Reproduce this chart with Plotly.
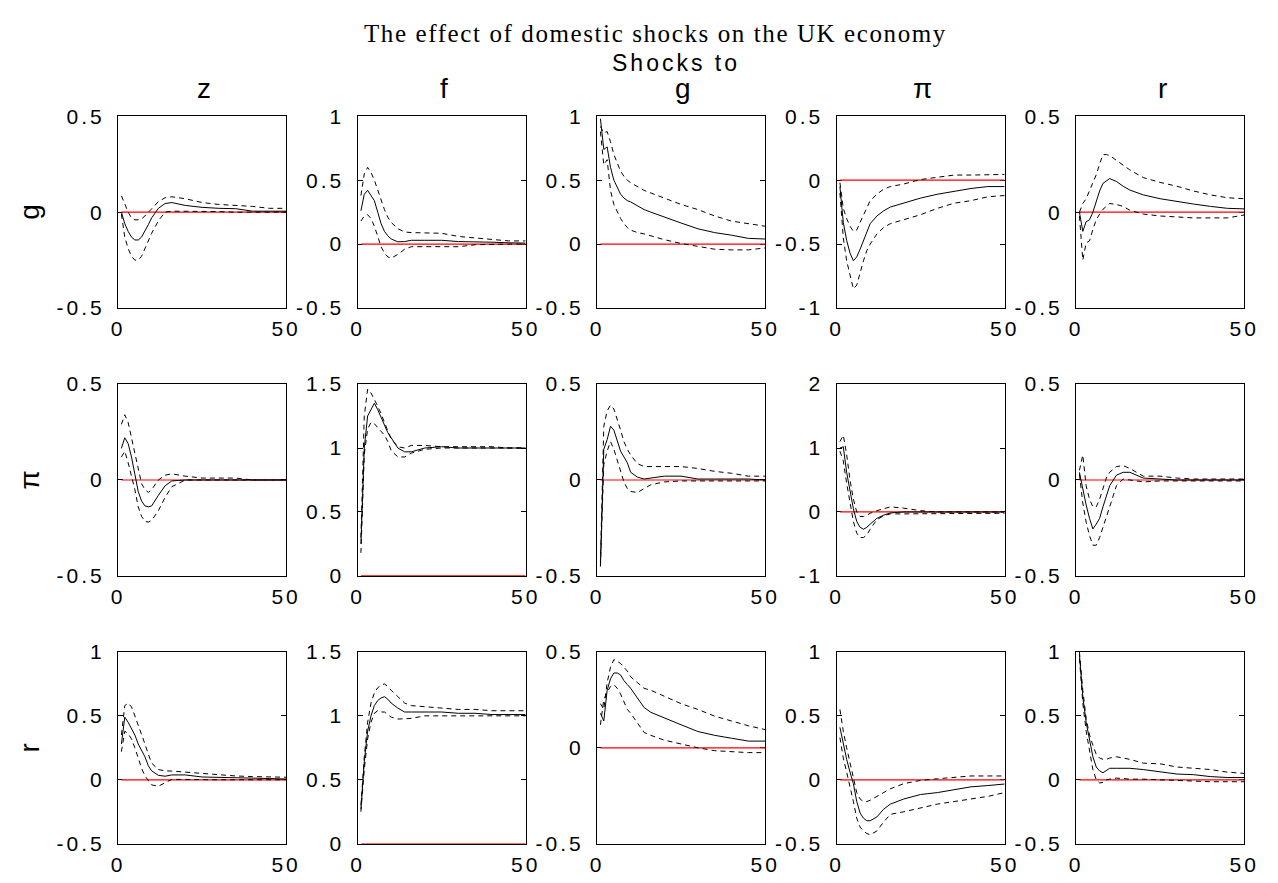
import plotly.graph_objects as go

# ---------------- data ----------------
H = [1, 2, 3, 4, 5, 6, 7, 8, 9, 10, 12, 14, 16, 20, 25, 30, 35, 40, 45, 50]
ZERO_X = [1, 50]
ZERO_Y = [0, 0]

shock_labels = ["z", "f", "g", "π", "r"]
response_labels = ["g", "π", "r"]
x_ticks = [0, 50]
x_ticktext = ["0", "50"]

# response g
g_z_med = [0.0, -0.06, -0.10, -0.13, -0.145, -0.145, -0.13, -0.10, -0.065, -0.03, 0.02, 0.045, 0.05, 0.035, 0.025, 0.02, 0.018, 0.005, 0.005, 0.005]
g_z_lo = [-0.01, -0.13, -0.19, -0.23, -0.25, -0.25, -0.23, -0.19, -0.15, -0.11, -0.045, 0.0, 0.005, 0.005, 0.005, 0.003, 0.0, 0.0, 0.0, 0.0]
g_z_hi = [0.085, 0.04, 0.0, -0.03, -0.04, -0.04, -0.035, -0.02, 0.0, 0.02, 0.055, 0.075, 0.08, 0.07, 0.05, 0.04, 0.035, 0.03, 0.02, 0.02]

g_f_med = [0.26, 0.39, 0.42, 0.38, 0.34, 0.25, 0.16, 0.10, 0.065, 0.04, 0.018, 0.02, 0.03, 0.03, 0.03, 0.02, 0.02, 0.015, 0.01, 0.008]
g_f_lo = [0.18, 0.22, 0.23, 0.20, 0.14, 0.06, -0.02, -0.07, -0.10, -0.11, -0.08, -0.04, -0.02, -0.02, -0.02, -0.02, -0.005, 0.0, 0.0, 0.0]
g_f_hi = [0.38, 0.55, 0.60, 0.56, 0.50, 0.42, 0.34, 0.27, 0.21, 0.17, 0.12, 0.095, 0.09, 0.09, 0.085, 0.06, 0.05, 0.035, 0.025, 0.025]

g_g_med = [0.98, 0.74, 0.76, 0.60, 0.50, 0.44, 0.39, 0.36, 0.34, 0.33, 0.30, 0.27, 0.25, 0.21, 0.165, 0.12, 0.09, 0.07, 0.045, 0.04]
g_g_lo = [0.88, 0.62, 0.66, 0.42, 0.31, 0.25, 0.20, 0.16, 0.13, 0.11, 0.09, 0.08, 0.065, 0.035, 0.005, -0.015, -0.04, -0.045, -0.045, -0.03]
g_g_hi = [0.92, 0.87, 0.88, 0.80, 0.70, 0.64, 0.57, 0.53, 0.50, 0.48, 0.45, 0.42, 0.40, 0.36, 0.31, 0.27, 0.22, 0.18, 0.16, 0.14]

g_pi_med = [-0.05, -0.33, -0.47, -0.57, -0.63, -0.60, -0.54, -0.47, -0.40, -0.34, -0.28, -0.24, -0.21, -0.18, -0.14, -0.11, -0.085, -0.065, -0.05, -0.05]
g_pi_lo = [-0.10, -0.45, -0.63, -0.73, -0.85, -0.82, -0.72, -0.63, -0.55, -0.50, -0.42, -0.37, -0.34, -0.31, -0.27, -0.22, -0.18, -0.16, -0.13, -0.12]
g_pi_hi = [-0.02, -0.22, -0.30, -0.36, -0.40, -0.39, -0.33, -0.27, -0.21, -0.16, -0.11, -0.07, -0.05, -0.03, 0.005, 0.025, 0.04, 0.04, 0.045, 0.045]

g_r_med = [0.0, -0.10, -0.05, -0.04, 0.0, 0.06, 0.11, 0.15, 0.165, 0.175, 0.16, 0.135, 0.115, 0.09, 0.07, 0.055, 0.042, 0.03, 0.02, 0.017]
g_r_lo = [-0.02, -0.25, -0.16, -0.15, -0.09, -0.04, -0.01, 0.015, 0.03, 0.045, 0.04, 0.03, 0.01, -0.01, -0.02, -0.025, -0.03, -0.03, -0.03, -0.015]
g_r_hi = [0.0, 0.045, 0.07, 0.11, 0.15, 0.195, 0.25, 0.30, 0.30, 0.295, 0.27, 0.245, 0.22, 0.18, 0.155, 0.135, 0.11, 0.09, 0.075, 0.07]

# response pi
pi_z_med = [0.165, 0.22, 0.19, 0.12, 0.03, -0.06, -0.11, -0.135, -0.14, -0.135, -0.08, -0.03, -0.005, 0.0, 0.0, 0.0, 0.0, 0.0, 0.0, 0.0]
pi_z_lo = [0.12, 0.15, 0.09, 0.02, -0.05, -0.14, -0.19, -0.215, -0.22, -0.21, -0.16, -0.09, -0.035, 0.0, 0.0, 0.0, 0.0, 0.0, 0.0, 0.0]
pi_z_hi = [0.29, 0.34, 0.30, 0.22, 0.13, 0.05, -0.02, -0.05, -0.065, -0.05, 0.0, 0.025, 0.032, 0.02, 0.01, 0.01, 0.01, 0.0, 0.0, 0.0]

pi_f_med = [0.25, 1.0, 1.25, 1.30, 1.35, 1.30, 1.24, 1.18, 1.12, 1.08, 1.0, 0.97, 0.97, 1.0, 1.01, 1.0, 1.0, 1.0, 1.0, 1.0]
pi_f_lo = [0.18, 0.95, 1.15, 1.20, 1.19, 1.16, 1.13, 1.10, 1.05, 0.98, 0.93, 0.93, 0.96, 0.99, 1.0, 1.0, 1.0, 1.0, 1.0, 1.0]
pi_f_hi = [0.30, 1.25, 1.46, 1.43, 1.38, 1.33, 1.27, 1.20, 1.14, 1.07, 1.01, 1.0, 1.02, 1.02, 1.01, 1.01, 1.01, 1.01, 1.0, 1.0]

pi_g_med = [-0.45, 0.16, 0.21, 0.28, 0.26, 0.20, 0.15, 0.12, 0.09, 0.04, 0.015, 0.005, 0.01, 0.02, 0.02, 0.005, 0.005, 0.005, 0.005, 0.0]
pi_g_lo = [-0.45, 0.08, 0.15, 0.20, 0.16, 0.10, 0.04, -0.01, -0.045, -0.06, -0.065, -0.045, -0.025, -0.01, -0.005, -0.005, -0.005, -0.005, -0.005, -0.005]
pi_g_hi = [-0.43, 0.28, 0.36, 0.39, 0.37, 0.32, 0.26, 0.20, 0.16, 0.13, 0.085, 0.07, 0.07, 0.07, 0.07, 0.06, 0.045, 0.035, 0.02, 0.02]

pi_pi_med = [1.0, 1.02, 0.62, 0.32, 0.05, -0.15, -0.24, -0.27, -0.24, -0.19, -0.10, -0.05, -0.015, 0.0, 0.0, 0.0, 0.0, 0.0, 0.0, 0.0]
pi_pi_lo = [0.95, 0.80, 0.45, 0.15, -0.15, -0.33, -0.40, -0.40, -0.36, -0.27, -0.12, -0.06, -0.03, -0.03, -0.03, -0.03, -0.03, -0.02, -0.02, -0.02]
pi_pi_hi = [1.10, 1.20, 0.90, 0.50, 0.20, 0.0, -0.07, -0.07, -0.05, -0.02, 0.02, 0.05, 0.08, 0.06, 0.02, 0.0, 0.0, 0.0, 0.0, 0.0]

pi_r_med = [0.04, -0.05, -0.13, -0.20, -0.255, -0.23, -0.20, -0.14, -0.08, -0.03, 0.025, 0.04, 0.04, 0.01, 0.005, 0.0, 0.0, 0.0, 0.0, 0.0]
pi_r_lo = [0.03, -0.12, -0.22, -0.29, -0.34, -0.34, -0.30, -0.25, -0.20, -0.14, -0.03, 0.005, 0.0, -0.01, -0.005, -0.005, -0.005, -0.005, -0.005, -0.005]
pi_r_hi = [0.05, 0.13, -0.03, -0.10, -0.14, -0.14, -0.10, -0.04, 0.01, 0.04, 0.07, 0.075, 0.06, 0.02, 0.02, 0.01, 0.005, 0.005, 0.005, 0.005]

# response r
r_z_med = [0.28, 0.49, 0.45, 0.40, 0.35, 0.28, 0.23, 0.18, 0.11, 0.07, 0.035, 0.028, 0.038, 0.038, 0.022, 0.02, 0.017, 0.012, 0.01, 0.006]
r_z_lo = [0.22, 0.38, 0.36, 0.32, 0.25, 0.17, 0.09, 0.03, -0.01, -0.04, -0.05, -0.025, 0.003, 0.003, 0.0, 0.0, 0.0, 0.0, 0.0, 0.0]
r_z_hi = [0.35, 0.58, 0.60, 0.57, 0.50, 0.43, 0.36, 0.28, 0.20, 0.13, 0.08, 0.07, 0.068, 0.06, 0.05, 0.035, 0.03, 0.025, 0.02, 0.02]

r_f_med = [0.27, 0.64, 0.88, 1.0, 1.08, 1.12, 1.14, 1.15, 1.13, 1.10, 1.06, 1.03, 1.03, 1.03, 1.03, 1.02, 1.02, 1.01, 1.01, 1.01]
r_f_lo = [0.25, 0.58, 0.82, 0.95, 1.02, 1.04, 1.03, 1.03, 1.01, 0.99, 0.975, 0.975, 0.98, 1.0, 1.0, 1.0, 1.0, 1.0, 1.0, 1.0]
r_f_hi = [0.30, 0.68, 0.95, 1.10, 1.18, 1.22, 1.24, 1.25, 1.23, 1.20, 1.15, 1.10, 1.08, 1.07, 1.06, 1.05, 1.05, 1.04, 1.04, 1.04]

r_g_med = [0.18, 0.14, 0.30, 0.36, 0.39, 0.39, 0.38, 0.35, 0.33, 0.31, 0.26, 0.21, 0.185, 0.155, 0.12, 0.085, 0.065, 0.05, 0.035, 0.035]
r_g_lo = [0.12, 0.25, 0.29, 0.32, 0.33, 0.31, 0.28, 0.24, 0.20, 0.18, 0.13, 0.08, 0.065, 0.04, 0.02, 0.0, -0.015, -0.02, -0.025, -0.025]
r_g_hi = [0.23, 0.20, 0.34, 0.42, 0.46, 0.45, 0.44, 0.42, 0.40, 0.37, 0.34, 0.31, 0.30, 0.27, 0.23, 0.20, 0.165, 0.14, 0.115, 0.095]

r_pi_med = [0.41, 0.27, 0.16, 0.06, -0.03, -0.17, -0.26, -0.30, -0.32, -0.32, -0.29, -0.23, -0.19, -0.15, -0.115, -0.10, -0.075, -0.055, -0.045, -0.033]
r_pi_lo = [0.33, 0.17, 0.06, -0.05, -0.17, -0.30, -0.37, -0.40, -0.42, -0.43, -0.40, -0.33, -0.27, -0.25, -0.22, -0.19, -0.17, -0.15, -0.13, -0.10]
r_pi_hi = [0.55, 0.38, 0.25, 0.13, 0.0, -0.10, -0.15, -0.17, -0.17, -0.16, -0.13, -0.10, -0.07, -0.03, -0.005, 0.008, 0.02, 0.03, 0.03, 0.03]

r_r_med = [0.98, 0.65, 0.45, 0.30, 0.18, 0.10, 0.07, 0.055, 0.07, 0.09, 0.09, 0.09, 0.09, 0.08, 0.06, 0.045, 0.04, 0.025, 0.018, 0.018]
r_r_lo = [0.95, 0.60, 0.38, 0.22, 0.08, 0.0, -0.025, -0.02, 0.0, 0.005, 0.013, 0.01, 0.005, 0.005, 0.0, -0.01, -0.015, -0.015, -0.015, -0.015]
r_r_hi = [1.0, 0.70, 0.48, 0.35, 0.27, 0.20, 0.17, 0.16, 0.16, 0.17, 0.18, 0.17, 0.16, 0.13, 0.125, 0.10, 0.09, 0.08, 0.06, 0.05]

# y-axis ranges and ticks per panel (row = response, col = shock)
y_ranges = [
    [[-0.5, 0.5], [-0.5, 1], [-0.5, 1], [-1, 0.5], [-0.5, 0.5]],
    [[-0.5, 0.5], [0, 1.5], [-0.5, 0.5], [-1, 2], [-0.5, 0.5]],
    [[-0.5, 1], [0, 1.5], [-0.5, 0.5], [-0.5, 1], [-0.5, 1]],
]
y_ticks = [
    [[-0.5, 0, 0.5], [-0.5, 0, 0.5, 1], [-0.5, 0, 0.5, 1], [-1, -0.5, 0, 0.5], [-0.5, 0, 0.5]],
    [[-0.5, 0, 0.5], [0, 0.5, 1, 1.5], [-0.5, 0, 0.5], [-1, 0, 1, 2], [-0.5, 0, 0.5]],
    [[-0.5, 0, 0.5, 1], [0, 0.5, 1, 1.5], [-0.5, 0, 0.5], [-0.5, 0, 0.5, 1], [-0.5, 0, 0.5, 1]],
]

panels = [
    [(g_z_med, g_z_lo, g_z_hi), (g_f_med, g_f_lo, g_f_hi), (g_g_med, g_g_lo, g_g_hi),
     (g_pi_med, g_pi_lo, g_pi_hi), (g_r_med, g_r_lo, g_r_hi)],
    [(pi_z_med, pi_z_lo, pi_z_hi), (pi_f_med, pi_f_lo, pi_f_hi), (pi_g_med, pi_g_lo, pi_g_hi),
     (pi_pi_med, pi_pi_lo, pi_pi_hi), (pi_r_med, pi_r_lo, pi_r_hi)],
    [(r_z_med, r_z_lo, r_z_hi), (r_f_med, r_f_lo, r_f_hi), (r_g_med, r_g_lo, r_g_hi),
     (r_pi_med, r_pi_lo, r_pi_hi), (r_r_med, r_r_lo, r_r_hi)],
]

# ---------------- layout geometry ----------------
W, Hgt = 1278, 883
COL_LEFT = 113
COL_STEP = 243.7
BOX_W = 171
ROW_TOP = 107
ROW_STEP = 275
BOX_H = 197

SANS = "Liberation Sans, Arial, sans-serif"
TICK_FONT = dict(family=SANS, size=21, color="black")


def spaced(s, px=3):
    return f'<span style="letter-spacing:{px}px">{s}</span>'


def fmt(v):
    if float(v).is_integer():
        return str(int(v))
    return ("%g" % v)


fig = go.Figure()
layout = {}
for r in range(3):
    for c in range(5):
        k = r * 5 + c + 1
        xa = "x" if k == 1 else f"x{k}"
        ya = "y" if k == 1 else f"y{k}"
        med, lo, hi = panels[r][c]
        fig.add_trace(go.Scatter(x=ZERO_X, y=ZERO_Y, mode="lines",
                                 line=dict(color="red", width=1.2),
                                 xaxis=xa, yaxis=ya, showlegend=False, hoverinfo="skip"))
        for series, dash in ((lo, "5px,4px"), (hi, "5px,4px"), (med, "solid")):
            fig.add_trace(go.Scatter(x=H, y=series, mode="lines",
                                     line=dict(color="black", width=1, dash=dash),
                                     xaxis=xa, yaxis=ya, showlegend=False))
        x0 = (COL_LEFT + COL_STEP * c) / W
        x1 = (COL_LEFT + COL_STEP * c + BOX_W) / W
        top = ROW_TOP + ROW_STEP * r
        y1 = 1 - top / Hgt
        y0 = 1 - (top + BOX_H) / Hgt
        xname = "xaxis" if k == 1 else f"xaxis{k}"
        yname = "yaxis" if k == 1 else f"yaxis{k}"
        layout[xname] = dict(domain=[x0, x1], anchor=ya, range=[0, 50],
                             tickvals=x_ticks, ticktext=[spaced(t) for t in x_ticktext],
                             showline=True, linecolor="black", linewidth=1.2, mirror="ticks",
                             ticks="inside", ticklen=5, tickcolor="black",
                             showgrid=False, zeroline=False, tickfont=TICK_FONT,
                             layer="below traces", ticklabelstandoff=2)
        layout[yname] = dict(domain=[y0, y1], anchor=xa, range=y_ranges[r][c],
                             tickvals=y_ticks[r][c],
                             ticktext=[spaced(fmt(v)) for v in y_ticks[r][c]],
                             showline=True, linecolor="black", linewidth=1.2, mirror="ticks",
                             ticks="inside", ticklen=5, tickcolor="black",
                             showgrid=False, zeroline=False, tickfont=TICK_FONT,
                             layer="below traces", ticklabelstandoff=8)

annotations = [
    dict(text=spaced("The effect of domestic shocks on the UK economy", 1.6), x=660 / W, y=1 - 22 / Hgt,
         xref="paper", yref="paper", showarrow=False, xanchor="center", yanchor="middle",
         font=dict(family="Liberation Serif, serif", size=25, color="black")),
    dict(text=spaced("Shocks to", 3), x=681 / W, y=1 - 52 / Hgt,
         xref="paper", yref="paper", showarrow=False, xanchor="center", yanchor="middle",
         font=dict(family=SANS, size=23, color="black")),
]
for c, lab in enumerate(shock_labels):
    annotations.append(dict(text=lab, x=(COL_LEFT + COL_STEP * c + BOX_W / 2 + 2) / W,
                            y=1 - 79 / Hgt, xref="paper", yref="paper", showarrow=False,
                            xanchor="center", yanchor="middle",
                            font=dict(family=SANS, size=28, color="black")))
for r, lab in enumerate(response_labels):
    annotations.append(dict(text=lab, x=23 / W, y=1 - (ROW_TOP + ROW_STEP * r + BOX_H / 2) / Hgt,
                            xref="paper", yref="paper", showarrow=False, textangle=-90,
                            xanchor="center", yanchor="middle",
                            font=dict(family=SANS, size=28, color="black")))

fig.update_layout(width=W, height=Hgt, margin=dict(l=0, r=0, t=0, b=0),
                  paper_bgcolor="white", plot_bgcolor="white",
                  annotations=annotations, **layout)

fig.write_html("out.html",
               config={"displayModeBar": False},
               post_script="document.body.style.margin='0';document.body.style.overflow='hidden';")
